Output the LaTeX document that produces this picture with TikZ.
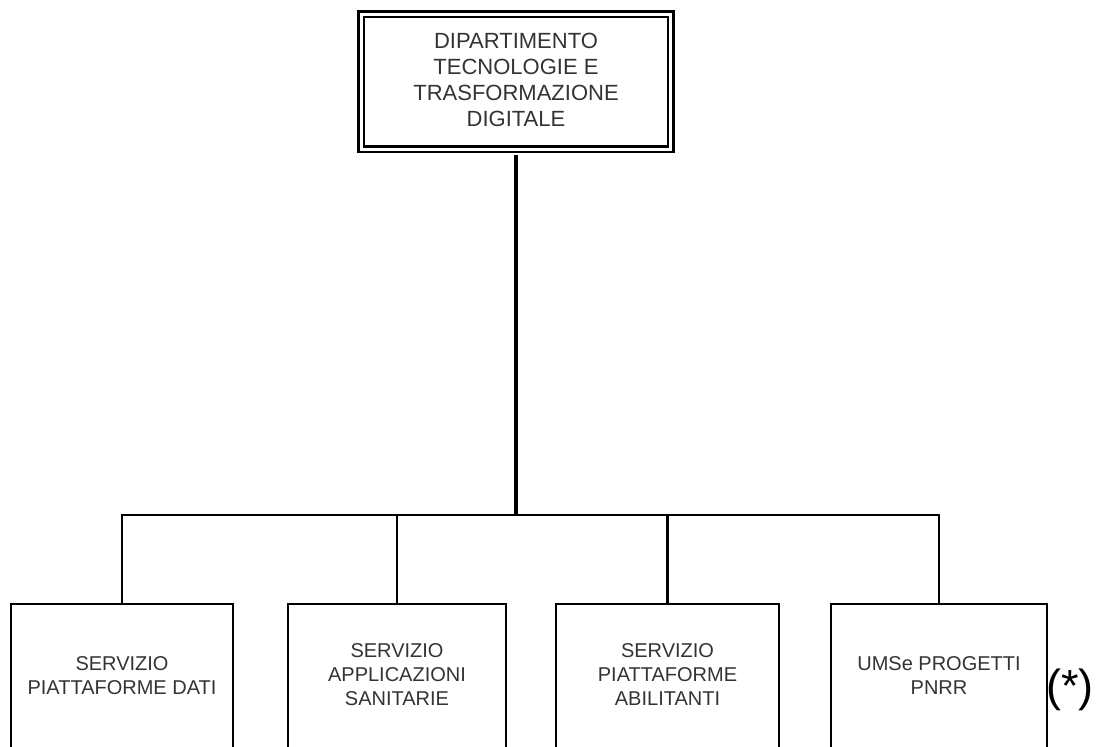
\documentclass[tikz,border=0pt]{standalone}
\usepackage{fontspec}
\setmainfont{Liberation Sans}
\usetikzlibrary{calc}
\definecolor{txt}{HTML}{333333}
\begin{document}
\begin{tikzpicture}[x=1pt,y=-1pt,
  topbox/.style={draw, line width=2.5pt, double, double distance=3.2pt, minimum width=309.5pt, minimum height=135pt, inner sep=0pt},
  unitbox/.style={draw, line width=2.6pt, minimum height=146pt, inner sep=0pt},
  toptext/.style={text=txt, align=center, font=\fontsize{22pt}{26pt}\selectfont},
  unittext/.style={text=txt, align=center, font=\fontsize{20pt}{24pt}\selectfont},
  conn/.style={line width=2.8pt}]
\useasboundingbox (0,0) rectangle (1101,747);
\begin{scope}
\clip (0,0) rectangle (1101,747);
\node[topbox] (top) at (516,81.75) {};
\node[toptext] (toptxt) at (516,80) {DIPARTIMENTO\\TECNOLOGIE E\\TRASFORMAZIONE\\DIGITALE};
\node[unitbox, minimum width=222pt] (b1) at (122,677) {};
\node[unitbox, minimum width=218pt] (b2) at (397,677) {};
\node[unitbox, minimum width=223pt] (b3) at (667.5,677) {};
\node[unitbox, minimum width=216pt] (b4) at (939,677) {};
\node[unittext] (t1) at (122,676) {SERVIZIO\\PIATTAFORME DATI};
\node[unittext] (t2) at (397,675) {SERVIZIO\\APPLICAZIONI\\SANITARIE};
\node[unittext] (t3) at (667.5,675) {SERVIZIO\\PIATTAFORME\\ABILITANTI};
\node[unittext] (t4) at (939,676) {UMSe PROGETTI\\PNRR};
\node[anchor=base west, inner sep=0pt, font=\fontsize{45pt}{49pt}\selectfont] (note) at (1046,701) {(*)};
\coordinate (j) at (516,515);
\draw[conn, line width=3.2pt] ($(top.south)+(0,4)$) -- (j);
\draw[conn, line cap=rect] (b1.north |- j) -- (b4.north |- j);
\draw[conn] (b1.north |- j) -- (b1.north);
\draw[conn] (b2.north |- j) -- (b2.north);
\draw[conn] (b3.north |- j) -- (b3.north);
\draw[conn] (b4.north |- j) -- (b4.north);
\end{scope}
\end{tikzpicture}
\end{document}
